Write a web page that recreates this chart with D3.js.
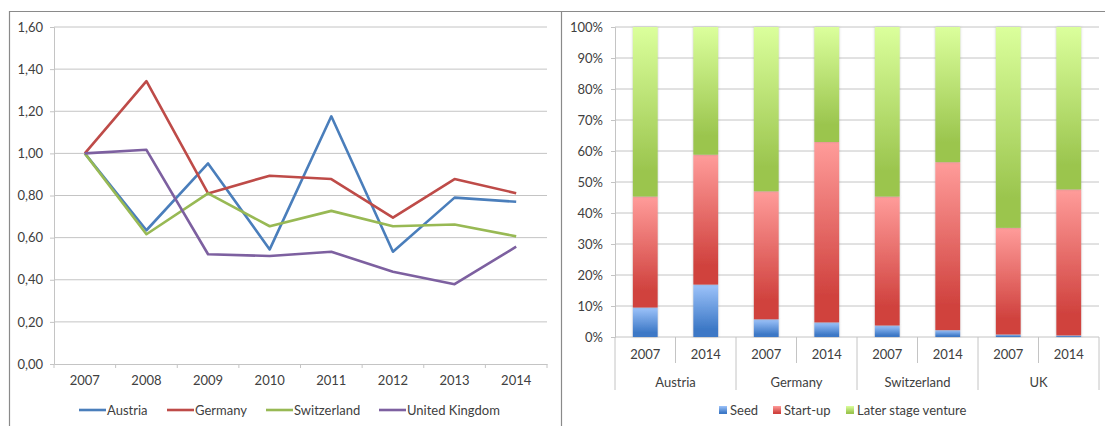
<!DOCTYPE html>
<html>
<head>
<meta charset="utf-8">
<script src="https://cdnjs.cloudflare.com/ajax/libs/d3/7.8.5/d3.min.js"></script>
<style>
    body { margin: 0; background: #fff; }
    svg text { font-family: Lato, "Liberation Sans", sans-serif; font-size: 13px; fill: #404040; }
</style>
</head>
<body>
<div id="chart"></div>
<script>
// left chart: index, 2007 = 1
var years = ["2007", "2008", "2009", "2010", "2011", "2012", "2013", "2014"];
var lineNames = ["Austria", "Germany", "Switzerland", "United Kingdom"];
var austria = [1.00, 0.635, 0.952, 0.544, 1.176, 0.533, 0.790, 0.770];
var germany = [1.00, 1.343, 0.810, 0.894, 0.878, 0.695, 0.878, 0.811];
var switzerland = [1.00, 0.616, 0.810, 0.654, 0.727, 0.654, 0.662, 0.606];
var unitedKingdom = [1.00, 1.017, 0.521, 0.513, 0.533, 0.438, 0.379, 0.557];
var lineColors = ["#4A7EBB", "#BE4B48", "#98B954", "#7D60A0"];
var indexTicks = [0, 0.2, 0.4, 0.6, 0.8, 1.0, 1.2, 1.4, 1.6];

// right chart: share of investments by stage (%)
var barCountries = ["Austria", "Germany", "Switzerland", "UK"];
var barYears = ["2007", "2014"];
var stages = ["Seed", "Start-up", "Later stage venture"];
var seed = [9.5, 16.9, 5.7, 4.7, 3.7, 2.2, 0.8, 0.5];
var startUp = [35.8, 41.9, 41.3, 58.2, 41.6, 54.2, 34.4, 47.1];
var laterStage = [54.7, 41.2, 53.0, 37.1, 54.7, 43.6, 64.8, 52.4];
var pctTicks = [0, 10, 20, 30, 40, 50, 60, 70, 80, 90, 100];
var stageLight = ["#9DC3FA", "#FF9C9A", "#DBFF9C"];
var stageDark = ["#3C78C6", "#D0423E", "#9BC54E"];

var width = 1105, height = 426;
var gridColor = "#C4C4C4";

var svg = d3.select("#chart").append("svg")
    .attr("width", width)
    .attr("height", height);

var defs = svg.append("defs");
stages.forEach(function (s, i) {
    var g = defs.append("linearGradient")
        .attr("id", "grad" + i)
        .attr("x1", 0).attr("y1", 0).attr("x2", 0).attr("y2", 1);
    g.append("stop").attr("offset", "0%").attr("stop-color", stageLight[i]);
    g.append("stop").attr("offset", "85%").attr("stop-color", stageDark[i]);
    g.append("stop").attr("offset", "100%").attr("stop-color", stageDark[i]);
});
defs.append("filter").attr("id", "shadow")
    .attr("x", "-20%").attr("y", "-5%").attr("width", "140%").attr("height", "110%")
  .append("feDropShadow")
    .attr("dx", 0).attr("dy", 0).attr("stdDeviation", 0.8)
    .attr("flood-color", "#888").attr("flood-opacity", 0.5);

// frame
svg.append("path")
    .attr("d", "M9.5,426V11.5H1105M561.5,11.5V426")
    .attr("fill", "none")
    .attr("stroke", "#8A8A8A")
    .attr("stroke-width", 1.2);

var fmt = d3.formatLocale({ decimal: ",", thousands: ".", grouping: [3], currency: ["", ""] }).format(".2f");

// ---------- line chart ----------
var L = { left: 54, right: 547, top: 27, bottom: 364 };

var xBand = d3.scaleBand().domain(years).range([L.left, L.right]);
var x1 = d3.scalePoint().domain(years).range([L.left, L.right]).padding(0.5);
var y1 = d3.scaleLinear().domain([0, 1.6]).range([L.bottom, L.top]);

var left = svg.append("g");

left.append("g")
    .selectAll("line")
    .data(indexTicks.filter(function (d) { return d > 0; }))
  .enter().append("line")
    .attr("x1", L.left).attr("x2", L.right)
    .attr("y1", function (d) { return y1(d); })
    .attr("y2", function (d) { return y1(d); })
    .attr("stroke", gridColor);

var yAxis1 = left.append("g")
    .attr("transform", "translate(" + L.left + ",0)")
    .call(d3.axisLeft(y1).tickValues(indexTicks).tickFormat(fmt).tickSize(4).tickPadding(7));

var xAxis1 = left.append("g")
    .attr("transform", "translate(0," + L.bottom + ")")
    .call(d3.axisBottom(xBand).tickSize(0).tickPadding(12));

// boundary ticks under the x axis
left.append("g")
    .selectAll("line")
    .data(d3.range(years.length + 1))
  .enter().append("line")
    .attr("x1", function (i) { return L.left + i * xBand.step(); })
    .attr("x2", function (i) { return L.left + i * xBand.step(); })
    .attr("y1", L.bottom).attr("y2", L.bottom + 4)
    .attr("stroke", gridColor);

[yAxis1, xAxis1].forEach(function (a) {
    a.selectAll("path, line").attr("stroke", gridColor);
    a.selectAll("text").attr("fill", "#404040").style("font-size", "13px");
    a.attr("font-family", null).attr("font-size", null);
});

var seriesData = [austria, germany, switzerland, unitedKingdom];
var line = d3.line()
    .x(function (d, i) { return x1(years[i]); })
    .y(function (d) { return y1(d); });

left.selectAll(".series")
    .data(seriesData)
  .enter().append("path")
    .attr("class", "series")
    .attr("d", line)
    .attr("fill", "none")
    .attr("stroke", function (d, i) { return lineColors[i]; })
    .attr("stroke-width", 2.6)
    .attr("stroke-linejoin", "round");

// legend
var legX1 = [79, 167, 266, 379];
var leg1 = left.selectAll(".leg1")
    .data(lineNames)
  .enter().append("g")
    .attr("class", "leg1")
    .attr("transform", function (d, i) { return "translate(" + legX1[i] + ",410)"; });
leg1.append("line")
    .attr("x1", 0).attr("x2", 27)
    .attr("stroke", function (d, i) { return lineColors[i]; })
    .attr("stroke-width", 2.6);
leg1.append("text")
    .attr("x", 28)
    .attr("dy", "0.35em")
    .text(function (d) { return d; });

// ---------- stacked bar chart ----------
var R = { left: 615, right: 1099, top: 27, bottom: 337 };

var barKeys = [];
barCountries.forEach(function (c) {
    barYears.forEach(function (y) { barKeys.push(c + "|" + y); });
});
var table = barKeys.map(function (k, i) {
    return { key: k, "Seed": seed[i], "Start-up": startUp[i], "Later stage venture": laterStage[i] };
});
var stacked = d3.stack().keys(stages)(table);

var x2 = d3.scaleBand().domain(barKeys).range([R.left, R.right]).paddingInner(0.59).paddingOuter(0.295);
var xSlot = d3.scaleBand().domain(barKeys).range([R.left, R.right]);
var y2 = d3.scaleLinear().domain([0, 100]).range([R.bottom, R.top]);

var right = svg.append("g");

right.append("g")
    .selectAll("line")
    .data(pctTicks.filter(function (d) { return d > 0; }))
  .enter().append("line")
    .attr("x1", R.left).attr("x2", R.right)
    .attr("y1", function (d) { return y2(d); })
    .attr("y2", function (d) { return y2(d); })
    .attr("stroke", gridColor);

var yAxis2 = right.append("g")
    .attr("transform", "translate(" + R.left + ",0)")
    .call(d3.axisLeft(y2).tickValues(pctTicks).tickFormat(function (d) { return d + "%"; }).tickSize(4).tickPadding(8));
yAxis2.selectAll("path, line").attr("stroke", gridColor);
yAxis2.attr("font-family", null).attr("font-size", null);
yAxis2.selectAll("text").attr("fill", "#404040");

right.append("line")
    .attr("x1", R.left).attr("x2", R.right)
    .attr("y1", R.bottom).attr("y2", R.bottom)
    .attr("stroke", gridColor);

// bars
right.selectAll(".stage")
    .data(stacked)
  .enter().append("g")
    .attr("class", "stage")
    .attr("fill", function (d, i) { return "url(#grad" + i + ")"; })
  .selectAll("rect")
    .data(function (d) { return d; })
  .enter().append("rect")
    .attr("x", function (d) { return x2(d.data.key); })
    .attr("width", x2.bandwidth())
    .attr("y", function (d) { return y2(d[1]); })
    .attr("height", function (d) { return y2(d[0]) - y2(d[1]); })
    .attr("filter", "url(#shadow)");

// two-level category axis
var step = xSlot.step();
right.append("g")
    .selectAll("line")
    .data(d3.range(barKeys.length + 1))
  .enter().append("line")
    .attr("x1", function (i) { return R.left + i * step; })
    .attr("x2", function (i) { return R.left + i * step; })
    .attr("y1", R.bottom)
    .attr("y2", function (i) { return i % 2 == 0 ? 390 : 363; })
    .attr("stroke", gridColor);

right.append("g")
    .selectAll("text")
    .data(barKeys)
  .enter().append("text")
    .attr("x", function (d) { return xSlot(d) + step / 2; })
    .attr("y", 354)
    .attr("dy", "0.35em")
    .attr("text-anchor", "middle")
    .text(function (d) { return d.split("|")[1]; });

right.append("g")
    .selectAll("text")
    .data(barCountries)
  .enter().append("text")
    .attr("x", function (d, i) { return R.left + (i * 2 + 1) * step; })
    .attr("y", 382)
    .attr("dy", "0.35em")
    .attr("text-anchor", "middle")
    .text(function (d) { return d; });

// legend
var legX2 = [719, 773, 846];
var leg2 = right.selectAll(".leg2")
    .data(stages)
  .enter().append("g")
    .attr("class", "leg2")
    .attr("transform", function (d, i) { return "translate(" + legX2[i] + ",410)"; });
leg2.append("rect")
    .attr("x", 0).attr("y", -4)
    .attr("width", 8).attr("height", 8)
    .attr("fill", function (d, i) { return "url(#grad" + i + ")"; });
leg2.append("text")
    .attr("x", 11)
    .attr("dy", "0.35em")
    .text(function (d) { return d; });
</script>
</body>
</html>
